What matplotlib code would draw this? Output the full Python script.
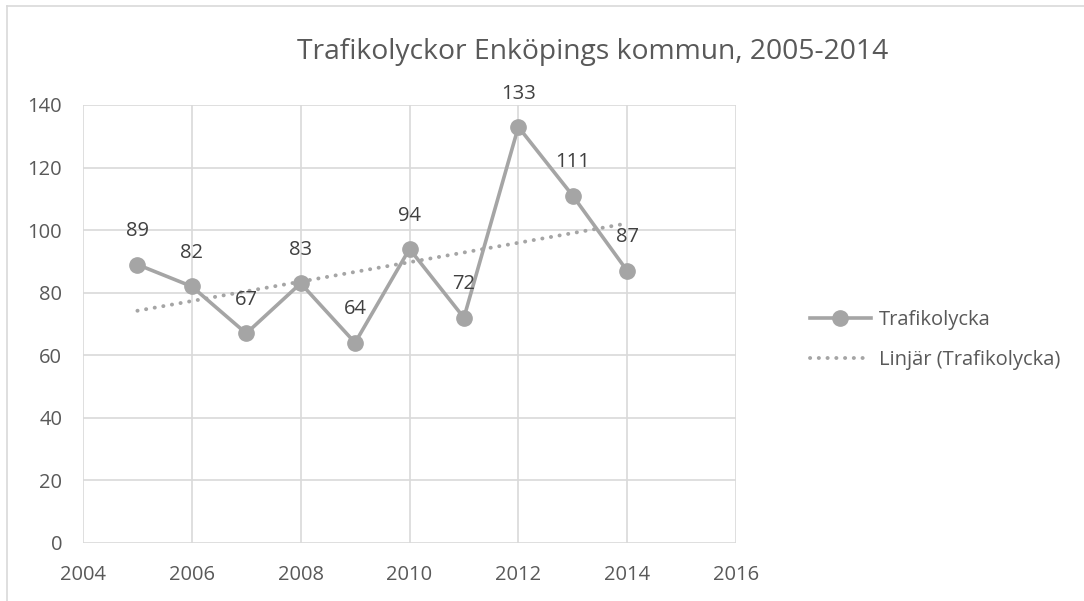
import numpy as np
import matplotlib
matplotlib.use("Agg")
import matplotlib.pyplot as plt
from matplotlib.lines import Line2D

years = [2005, 2006, 2007, 2008, 2009, 2010, 2011, 2012, 2013, 2014]
accidents = [89, 82, 67, 83, 64, 94, 72, 133, 111, 87]
x_ticks = [2004, 2006, 2008, 2010, 2012, 2014, 2016]
y_ticks = [0, 20, 40, 60, 80, 100, 120, 140]

title = "Trafikolyckor Enköpings kommun, 2005-2014"
series_name = "Trafikolycka"
trend_name = "Linjär (Trafikolycka)"

LINE = "#A5A5A5"
TEXT = "#595959"
GRID = "#D9D9D9"
DOTS = (0, (0.05, 2.2))

plt.rcParams['font.family'] = ['Open Sans', 'DejaVu Sans']

fig = plt.figure(figsize=(10.84, 6.01), dpi=100)
ax = fig.add_axes([83 / 1084, 1 - 543 / 601, (736 - 83) / 1084, (543 - 105) / 601])

# chart area border (only left and top are visible in the crop)
fig.add_artist(Line2D([6.5 / 1084, 6.5 / 1084], [0, 1 - 5.5 / 601], transform=fig.transFigure,
                      color=GRID, lw=1.2))
fig.add_artist(Line2D([6.5 / 1084, 1], [1 - 5.5 / 601, 1 - 5.5 / 601], transform=fig.transFigure,
                      color=GRID, lw=1.2))

# linear trend
coef = np.polyfit(years, accidents, 1)
trend = np.polyval(coef, years)
ax.plot([years[0], years[-1]], [trend[0], trend[-1]], color=LINE, lw=2.8,
        linestyle=DOTS, dash_capstyle='round', zorder=2)

ax.plot(years, accidents, color=LINE, lw=2.6, marker='o', markersize=11,
        markerfacecolor=LINE, markeredgecolor=LINE, zorder=3)

for x, y in zip(years, accidents):
    ax.annotate(str(y), (x, y), xytext=(0, 24), textcoords='offset points',
                ha='center', va='center', fontsize=14.5, color="#404040")

ax.set_xlim(2004, 2016)
ax.set_ylim(0, 140)
ax.set_xticks(x_ticks)
ax.set_yticks(y_ticks)
ax.grid(True, color=GRID, lw=1.2)
ax.set_axisbelow(True)
for s in ax.spines.values():
    s.set_visible(False)
ax.tick_params(length=0, labelsize=14.5, labelcolor=TEXT)
ax.tick_params(axis='y', pad=15)
ax.tick_params(axis='x', pad=16)

fig.text(593 / 1084, 1 - 52 / 601, title, ha='center', va='center', fontsize=20.3, color=TEXT)

handles = [
    Line2D([], [], color=LINE, lw=2.6, marker='o', markersize=11),
    Line2D([], [], color=LINE, lw=2.8, linestyle=DOTS, dash_capstyle='round'),
]
fig.legend(handles, [series_name, trend_name], loc='center left',
           bbox_to_anchor=(792 / 1084, 1 - 340 / 601), frameon=False,
           fontsize=14.5, labelcolor=TEXT, handlelength=3.0, handletextpad=0.4,
           labelspacing=1.0)

fig.savefig("out.png", dpi=100, facecolor='white')
